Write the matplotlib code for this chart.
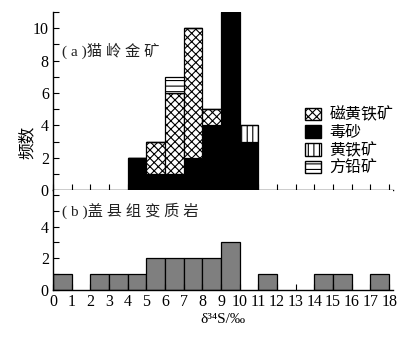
import matplotlib
matplotlib.use("Agg")
import matplotlib.pyplot as plt
import numpy as np
from matplotlib.patches import Patch

plt.rcParams['font.family'] = ['Liberation Serif', 'Noto Sans CJK SC', 'DejaVu Sans']
plt.rcParams['hatch.linewidth'] = 0.8

# Top panel (a) 猫岭金矿: bins (left edges) with stacked counts
bins_a = [4, 5, 6, 7, 8, 9, 10]
arsenopyrite = [2, 1, 1, 2, 4, 11, 3]      # 毒砂
pyrrhotite = [0, 2, 5, 8, 1, 0, 0]          # 磁黄铁矿
pyrite = [0, 0, 0, 0, 0, 0, 1]              # 黄铁矿
galena = [0, 0, 1, 0, 0, 0, 0]              # 方铅矿

# Bottom panel (b) 盖县组变质岩
bins_b = [0, 2, 3, 4, 5, 6, 7, 8, 9, 11, 14, 15, 17]
counts_b = [1, 1, 1, 1, 2, 2, 2, 2, 3, 1, 1, 1, 1]

xticks = list(range(0, 19))
series_labels = ['磁黄铁矿', '毒砂', '黄铁矿', '方铅矿']

fig = plt.figure(figsize=(4.14, 3.42), dpi=100)
ax1 = fig.add_axes([0.128, 0.444, 0.821, 0.521])
ax2 = fig.add_axes([0.128, 0.152, 0.821, 0.292])

lw = 0.9
b_ars = np.array(arsenopyrite, dtype=float)
b_pyr = b_ars + np.array(pyrrhotite)
b_py = b_pyr + np.array(pyrite)

ax1.bar(bins_a, arsenopyrite, width=1, align='edge', color='black', edgecolor='black', linewidth=lw)
ax1.bar(bins_a, pyrrhotite, width=1, bottom=b_ars, align='edge', color='white', edgecolor='black', hatch='xxxx', linewidth=lw)
ax1.bar(bins_a, pyrite, width=1, bottom=b_pyr, align='edge', color='white', edgecolor='black', hatch='|||', linewidth=lw)
ax1.bar(bins_a, galena, width=1, bottom=b_py, align='edge', color='white', edgecolor='black', hatch='---', linewidth=lw)

ax2.bar(bins_b, counts_b, width=1, align='edge', color='#7f7f7f', edgecolor='black', linewidth=lw)

for ax in (ax1, ax2):
    ax.set_xlim(0, 18.2)
    ax.spines['top'].set_visible(False)
    ax.spines['right'].set_visible(False)
    ax.spines['left'].set_linewidth(1.0)
    ax.spines['bottom'].set_linewidth(1.0)
    ax.set_xticks(xticks)
    ax.tick_params(direction='in', length=4, width=0.8, labelsize=11.5, pad=3)

ax1.set_ylim(0, 11)
ax1.set_yticks([0, 2, 4, 6, 8, 10])
ax1.set_yticks(range(0, 12), minor=True)
ax1.tick_params(axis='y', which='minor', direction='in', length=4, width=0.8)
ax1.tick_params(axis='x', labelbottom=False)

ax2.set_ylim(0, 6.3)
ax2.set_yticks([0, 2, 4])
ax2.set_yticks(range(0, 7), minor=True)
ax2.tick_params(axis='y', which='minor', direction='in', length=4, width=0.8)
ax2.set_xticklabels([str(v) for v in xticks])

ax1.text(0.5, 8.6, '( a )猫 岭 金 矿', fontsize=11, ha='left', va='center', color='#222222')
ax2.text(0.5, 5.0, '( b )盖 县 组 变 质 岩', fontsize=11, ha='left', va='center', color='#222222')

fig.text(0.066, 0.585, '频数', rotation=90, fontsize=12, ha='center', va='center')
ax2.set_xlabel('δ³⁴S/‰', fontsize=11, labelpad=2)

handles = [
    Patch(facecolor='white', edgecolor='black', hatch='xxxx', label=series_labels[0]),
    Patch(facecolor='black', edgecolor='black', label=series_labels[1]),
    Patch(facecolor='white', edgecolor='black', hatch='|||', label=series_labels[2]),
    Patch(facecolor='white', edgecolor='black', hatch='---', label=series_labels[3]),
]
ax1.legend(handles=handles, loc='center left', bbox_to_anchor=(0.71, 0.27), frameon=False,
           fontsize=11.5, handlelength=1.0, handleheight=0.8, handletextpad=0.5,
           labelspacing=0.12, borderpad=0.2)

fig.savefig('out.png', dpi=100, facecolor='white')
